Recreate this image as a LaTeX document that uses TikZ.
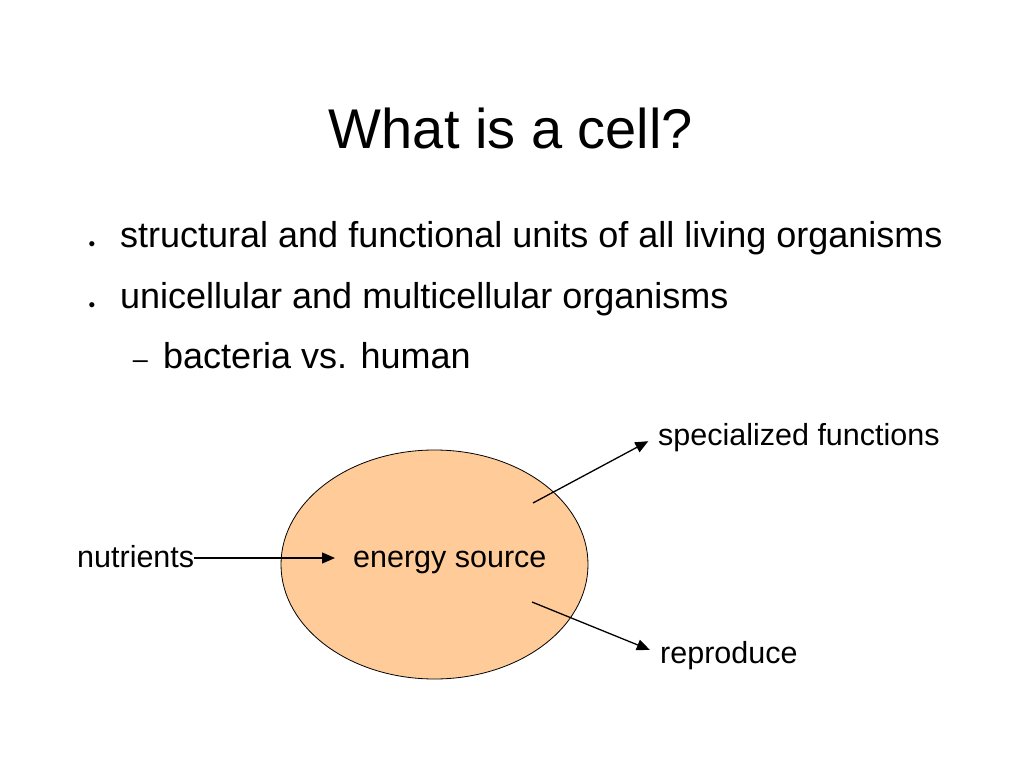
\documentclass[tikz,border=0pt]{standalone}
\usepackage{fontspec}
\setmainfont{Liberation Sans}
\usetikzlibrary{shapes.geometric,arrows.meta}
\definecolor{peach}{HTML}{FFCC99}
\begin{document}
\begin{tikzpicture}[x=1pt,y=-1pt]
      \useasboundingbox (0,0) rectangle (1023,767);
      \begin{scope}
        \tikzstyle{title} = [inner sep=0pt, anchor=base, font=\fontsize{56}{60}\selectfont]
        \tikzstyle{item} = [inner sep=0pt, anchor=base west, font=\fontsize{36}{40}\selectfont]
        \tikzstyle{bulletmark} = [inner sep=0pt, anchor=base]
        \tikzstyle{lbl} = [inner sep=0pt, anchor=base west, text height=24pt, text depth=6pt, font=\fontsize{30.5}{34}\selectfont]
        \tikzstyle{arr} = [line width=1.3pt, -{Triangle[length=13pt,width=11pt]}]

        % title and bullet list
        \node[title] (t) at (511,149) {What is a cell?};
        \node[bulletmark, font=\fontsize{19}{20}\selectfont] (b1) at (92,251) {•};
        \node[item] (i1) at (120,248) {structural and functional units of all living organisms};
        \node[bulletmark, font=\fontsize{19}{20}\selectfont] (b2) at (92,312) {•};
        \node[item] (i2) at (120,309) {unicellular and multicellular organisms};
        \node[bulletmark, font=\fontsize{27}{30}\selectfont] (d1) at (140.5,369) {–};
        \node[item] (i3) at (163,369) {bacteria vs. human};

        % the cell
        \node[ellipse, draw, line width=0.8pt, fill=peach, minimum width=307pt, minimum height=229pt] (cell) at (434.5,564.5) {};
        \node[lbl] (src) at (353,567) {energy source};
        \node[lbl] (nutr) at (77,567) {nutrients};
        \node[lbl] (spec) at (658,445) {specialized functions};
        \node[lbl] (repr) at (660,663) {reproduce};
        \coordinate (f1) at (533,503);
        \coordinate (f2) at (532,602);

        \draw[arr, shorten >=18pt] (nutr.east) -- (src.west);
        \draw[arr, shorten >=11pt] (f1) -- (spec.west);
        \draw[arr, shorten >=11pt] (f2) -- (repr.west);
      \end{scope}
    \end{tikzpicture}
\end{document}
